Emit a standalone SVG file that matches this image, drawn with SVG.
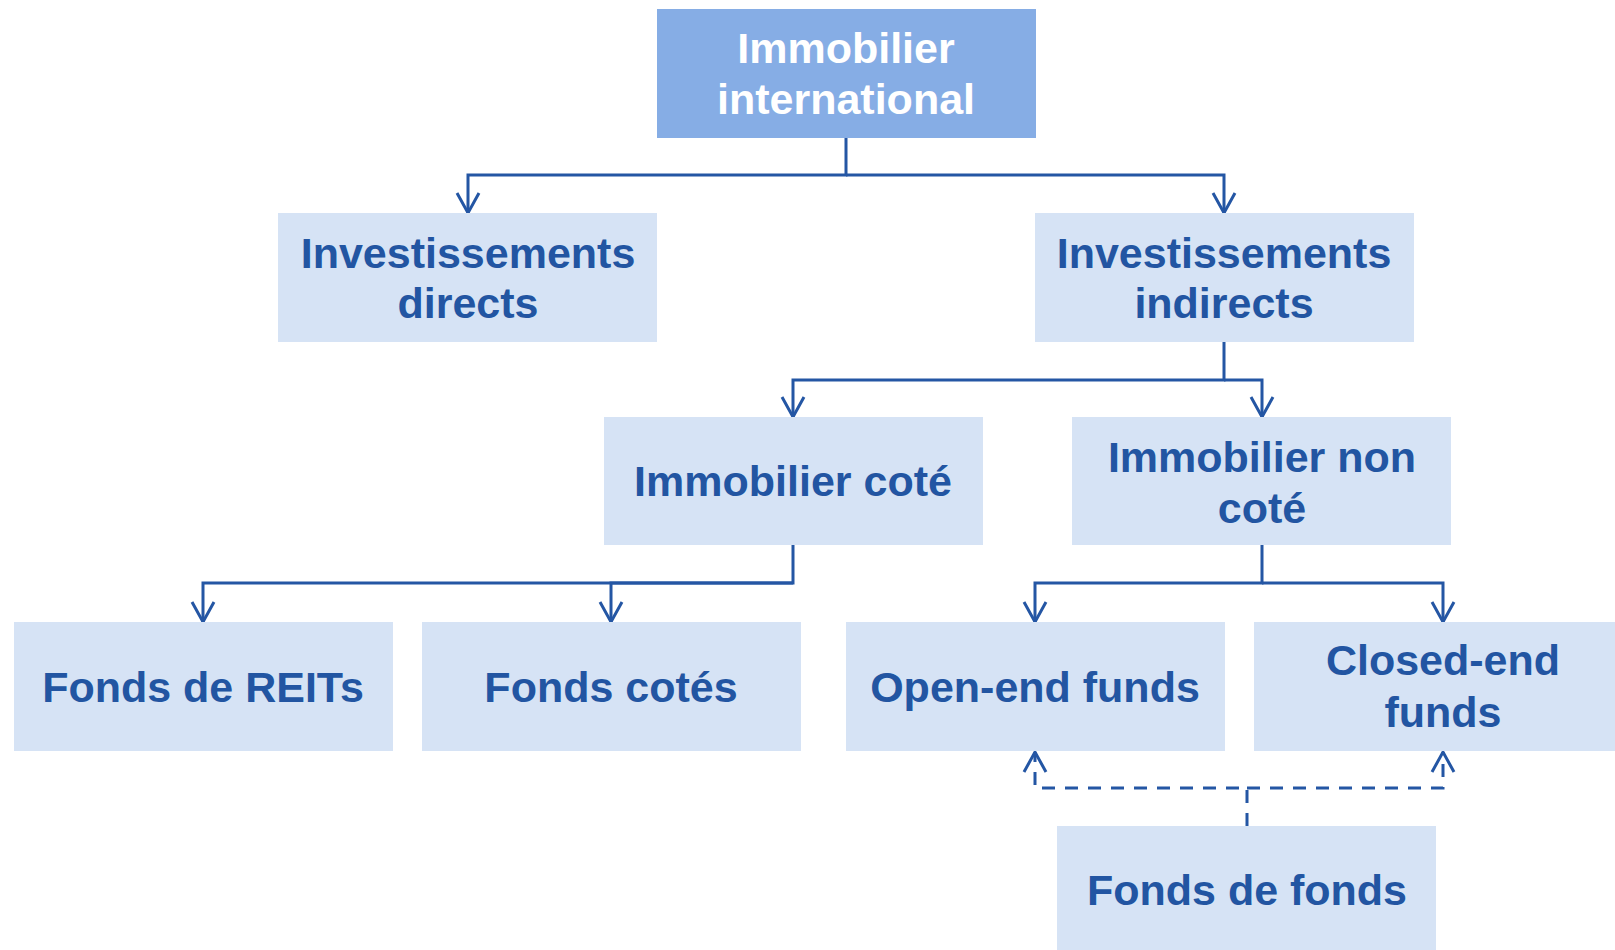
<svg xmlns="http://www.w3.org/2000/svg" width="1615" height="950" viewBox="0 0 1615 950">
  <defs>
    <style>
      .box { fill: #D6E3F5; }
      .top { fill: #86ADE5; }
      .lbl { font-family: "Liberation Sans", Arial, sans-serif; font-weight: bold; font-size: 43px; fill: #2255A2; text-anchor: middle; }
      .lbl-w { fill: #FFFFFF; }
      .conn { fill: none; stroke: #2456A4; stroke-width: 3; stroke-linejoin: miter; }
      .dash { stroke-dasharray: 13 10; }
    </style>
    <marker id="arrow" markerUnits="userSpaceOnUse" markerWidth="30" markerHeight="30" refX="0" refY="0" orient="auto" overflow="visible" viewBox="-25 -15 30 30">
      <path d="M-20,-11 L0,0 L-20,11" fill="none" stroke="#2456A4" stroke-width="3"/>
    </marker>
  </defs>
  <rect width="1615" height="950" fill="#FFFFFF"/>

  <g id="connectors">
    <path class="conn" d="M846,138 V175 H468 V213" marker-end="url(#arrow)"/>
    <path class="conn" d="M846,175 H1224 V213" marker-end="url(#arrow)"/>
    <path class="conn" d="M1224,342 V380 H793 V417" marker-end="url(#arrow)"/>
    <path class="conn" d="M1224,380 H1262 V417" marker-end="url(#arrow)"/>
    <path class="conn" d="M793,545 V583 H203 V622" marker-end="url(#arrow)"/>
    <path class="conn" d="M793,583 H611 V622" marker-end="url(#arrow)"/>
    <path class="conn" d="M1262,545 V583 H1035 V622" marker-end="url(#arrow)"/>
    <path class="conn" d="M1262,583 H1443 V622" marker-end="url(#arrow)"/>
    <path class="conn dash" d="M1247,826 V788 H1035 V752" marker-end="url(#arrow)"/>
    <path class="conn dash" d="M1247,788 H1443 V752" marker-end="url(#arrow)"/>
  </g>

  <g id="node-immobilier-international">
    <rect class="top" x="657" y="9" width="379" height="129"/>
    <text class="lbl lbl-w" x="846" y="63">Immobilier</text>
    <text class="lbl lbl-w" x="846" y="114">international</text>
  </g>
  <g id="node-investissements-directs">
    <rect class="box" x="278" y="213" width="379" height="129"/>
    <text class="lbl" x="468" y="268">Investissements</text>
    <text class="lbl" x="468" y="318">directs</text>
  </g>
  <g id="node-investissements-indirects">
    <rect class="box" x="1035" y="213" width="379" height="129"/>
    <text class="lbl" x="1224" y="268">Investissements</text>
    <text class="lbl" x="1224" y="318">indirects</text>
  </g>
  <g id="node-immobilier-cote">
    <rect class="box" x="604" y="417" width="379" height="128"/>
    <text class="lbl" x="793" y="496">Immobilier coté</text>
  </g>
  <g id="node-immobilier-non-cote">
    <rect class="box" x="1072" y="417" width="379" height="128"/>
    <text class="lbl" x="1262" y="472">Immobilier non</text>
    <text class="lbl" x="1262" y="523">coté</text>
  </g>
  <g id="node-fonds-de-reits">
    <rect class="box" x="14" y="622" width="379" height="129"/>
    <text class="lbl" x="203" y="702">Fonds de REITs</text>
  </g>
  <g id="node-fonds-cotes">
    <rect class="box" x="422" y="622" width="379" height="129"/>
    <text class="lbl" x="611" y="702">Fonds cotés</text>
  </g>
  <g id="node-open-end-funds">
    <rect class="box" x="846" y="622" width="379" height="129"/>
    <text class="lbl" x="1035" y="702">Open-end funds</text>
  </g>
  <g id="node-closed-end-funds">
    <rect class="box" x="1254" y="622" width="379" height="129"/>
    <text class="lbl" x="1443" y="675">Closed-end</text>
    <text class="lbl" x="1443" y="727">funds</text>
  </g>
  <g id="node-fonds-de-fonds">
    <rect class="box" x="1057" y="826" width="379" height="129"/>
    <text class="lbl" x="1247" y="905">Fonds de fonds</text>
  </g>
</svg>
